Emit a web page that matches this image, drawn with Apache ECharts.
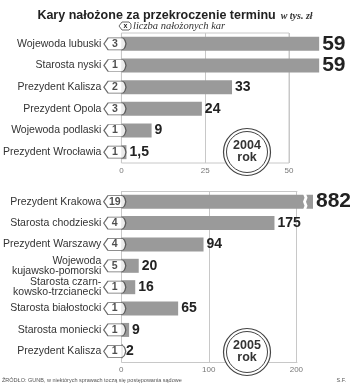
<!DOCTYPE html>
<html><head><meta charset="utf-8">
<script src="https://cdn.jsdelivr.net/npm/echarts@6/dist/echarts.min.js"></script>
<style>html,body{margin:0;padding:0;background:#fff}#c{width:350px;height:385px}</style>
</head><body><div id="c"></div>
<script>
const cats2004 = ['Wojewoda lubuski','Starosta nyski','Prezydent Kalisza','Prezydent Opola','Wojewoda podlaski','Prezydent Wrocławia'];
const values2004 = [59, 59, 33, 24, 9, 1.5];
const counts2004 = [3, 1, 2, 3, 1, 1];
const cats2005 = ['Prezydent Krakowa','Starosta chodzieski','Prezydent Warszawy','Wojewoda\nkujawsko-pomorski','Starosta czarn-\nkowsko-trzcianecki','Starosta białostocki','Starosta moniecki','Prezydent Kalisza'];
const values2005 = [882, 175, 94, 20, 16, 65, 9, 2];
const counts2005 = [19, 4, 4, 5, 1, 1, 1, 1];
const ticks2004 = [0, 25, 50];
const ticks2005 = [0, 100, 200];

const FONT = 'Liberation Sans';
const BAR = '#9a9a9a';
const GRIDC = '#c8c8c8';
const BADGE = 'path://M0,6 L4,0 L17,0 Q20,0 21,6 Q20,12 17,12 L4,12 Z';

const top2004 = { max: ticks2004[ticks2004.length - 1], interval: ticks2004[1] - ticks2004[0] };
const top2005 = { shownMax: ticks2005[ticks2005.length - 1], interval: ticks2005[1] - ticks2005[0] };
const ext2005 = 219; // visible extent incl. break overhang
const G2 = { left: 117, top: 191, height: 171, width: 196 };

function catData(cats) {
  return cats.map(c => c.indexOf('\n') >= 0 ? { value: c, textStyle: { padding: [9, 0, 0, 0] } } : c);
}
function barData(vals, max) {
  return vals.map(v => ({
    value: v,
    label: v > max ? { fontSize: 21 } : undefined
  }));
}
function badgeData(counts) {
  return counts.map((c, i) => ({ value: [0, i], count: c }));
}
const valFmt = p => String(p.value).replace('.', ',');

const yAxisBase = {
  type: 'category', inverse: true,
  axisLine: { show: false }, axisTick: { show: false },
  axisLabel: { margin: 20, fontFamily: FONT, fontSize: 10.5, color: '#333', lineHeight: 10 }
};
const xLabel = { fontFamily: FONT, fontSize: 8, color: '#777', margin: 4 };
const badgeSeries = (xi, counts) => ({
  type: 'scatter', xAxisIndex: xi, yAxisIndex: xi, data: badgeData(counts),
  symbol: BADGE, symbolSize: [22, 12], symbolOffset: [-6.5, 0], z: 5,
  itemStyle: { color: '#fff', borderColor: '#444', borderWidth: 1 },
  label: { show: true, position: 'inside', formatter: p => p.data.count,
    fontFamily: FONT, fontWeight: 'bold', fontSize: 10.5, color: '#222' }
});

const chart = echarts.init(document.getElementById('c'), null, { renderer: 'canvas' });
const option = {
  animation: false,
  title: {
    left: 'center', top: 2,
    text: '{a|Kary nałożone za przekroczenie terminu} {b|w tys. zł}',
    textStyle: {
      rich: {
        a: { fontFamily: FONT, fontWeight: 'bold', fontSize: 12.5, color: '#222' },
        b: { fontFamily: 'Liberation Serif', fontStyle: 'italic', fontSize: 10, color: '#333' }
      }
    }
  },
  grid: [
    { left: 117, top: 33, width: 172, height: 130, show: true, borderColor: GRIDC, borderWidth: 1 },
    { left: G2.left, top: G2.top, width: G2.width, height: G2.height, show: false }
  ],
  xAxis: [
    { type: 'value', gridIndex: 0, min: 0, max: top2004.max, interval: top2004.interval,
      axisLine: { show: false }, axisTick: { show: false },
      splitLine: { lineStyle: { color: GRIDC } }, axisLabel: xLabel },
    { type: 'value', gridIndex: 1, min: 0, max: ext2005, interval: top2005.interval,
      axisLine: { show: false }, axisTick: { show: false },
      splitLine: { lineStyle: { color: GRIDC }, showMaxLine: false },
      axisLabel: Object.assign({ showMaxLabel: false }, xLabel) }
  ],
  yAxis: [
    Object.assign({ gridIndex: 0, data: catData(cats2004) }, yAxisBase),
    Object.assign({ gridIndex: 1, data: catData(cats2005) }, yAxisBase)
  ],
  series: [
    { type: 'bar', xAxisIndex: 0, yAxisIndex: 0, data: barData(values2004, top2004.max),
      barWidth: 14, clip: false, itemStyle: { color: BAR },
      label: { show: true, position: 'right', distance: 3, formatter: valFmt,
        fontFamily: FONT, fontWeight: 'bold', fontSize: 14, color: '#222' } },
    { type: 'bar', xAxisIndex: 1, yAxisIndex: 1, data: barData(values2005, ext2005),
      barWidth: 14, clip: true, itemStyle: { color: BAR },
      label: { show: true, position: 'right', distance: 3, formatter: valFmt,
        fontFamily: FONT, fontWeight: 'bold', fontSize: 14, color: '#222' } },
    badgeSeries(0, counts2004),
    badgeSeries(1, counts2005)
  ]
};
chart.setOption(option);

// decorations
const g = [];
// frame of the 2005 panel, closed at the last labelled tick
let fx0 = chart.convertToPixel({ gridIndex: 1 }, [ticks2005[0], 0]);
let fx1 = chart.convertToPixel({ gridIndex: 1 }, [top2005.shownMax, 0]);
fx0 = (fx0 && isFinite(fx0[0])) ? fx0[0] : G2.left;
fx1 = (fx1 && isFinite(fx1[0])) ? fx1[0] : G2.left + G2.width * top2005.shownMax / ext2005;
[G2.top, G2.top + G2.height].forEach(yy => {
  g.push({ type: 'rect', z: 1, shape: { x: fx0, y: yy, width: fx1 - fx0 + 1, height: 1 }, style: { fill: GRIDC } });
});
// legend badge
g.push({ type: 'polygon', shape: { points: [[119, 26], [122, 22], [129, 22], [131, 24], [131, 28], [129, 30], [122, 30]] },
  style: { fill: '#fff', stroke: '#444', lineWidth: 0.8 } });
g.push({ type: 'text', x: 125.5, y: 26, style: { text: 'x', font: 'bold 7px ' + FONT, fill: '#222', align: 'center', verticalAlign: 'middle' } });
g.push({ type: 'text', x: 133, y: 26, style: { text: 'liczba nałożonych kar', font: 'italic 10.5px Liberation Serif', fill: '#333', verticalAlign: 'middle' } });
// year circles
function yearBadge(cx, cy, year) {
  g.push({ type: 'circle', z: 10, shape: { cx: cx, cy: cy, r: 23.5 }, style: { fill: '#fff', stroke: '#444', lineWidth: 1.2 } });
  g.push({ type: 'circle', z: 11, shape: { cx: cx, cy: cy, r: 20.5 }, style: { fill: '#fff', stroke: '#444', lineWidth: 1 } });
  g.push({ type: 'text', z: 12, x: cx, y: cy - 6, style: { text: year, font: 'bold 12.5px ' + FONT, fill: '#333', align: 'center', verticalAlign: 'middle' } });
  g.push({ type: 'text', z: 12, x: cx, y: cy + 6, style: { text: 'rok', font: 'bold 12.5px ' + FONT, fill: '#333', align: 'center', verticalAlign: 'middle' } });
}
yearBadge(247, 152, '2004');
yearBadge(247, 352, '2005');
// zigzag break on the overflowing bar
values2005.forEach((v, i) => {
  if (v > ext2005) {
    const p = chart.convertToPixel({ gridIndex: 1 }, [ext2005, i]);
    const bx = p[0] - 10;
    const y0 = p[1] - 8, y1 = p[1] + 8;
    const pts = [];
    const n = 4;
    for (let k = 0; k <= n; k++) pts.push([bx + (k % 2 ? 1.5 : 0), y0 + (y1 - y0) * k / n]);
    for (let k = n; k >= 0; k--) pts.push([bx + 3 + (k % 2 ? 1.5 : 0), y0 + (y1 - y0) * k / n]);
    g.push({ type: 'polygon', z: 10, shape: { points: pts }, style: { fill: '#fff' } });
  }
});
// footer
g.push({ type: 'text', x: 2, y: 380, style: { text: 'ŹRÓDŁO: GUNB, w niektórych sprawach toczą się postępowania sądowe', font: '5.5px ' + FONT, fill: '#555', verticalAlign: 'middle' } });
g.push({ type: 'text', x: 346, y: 380, style: { text: 'S.F.', font: '5.5px ' + FONT, fill: '#555', align: 'right', verticalAlign: 'middle' } });
chart.setOption({ graphic: g });
</script>
</body></html>
